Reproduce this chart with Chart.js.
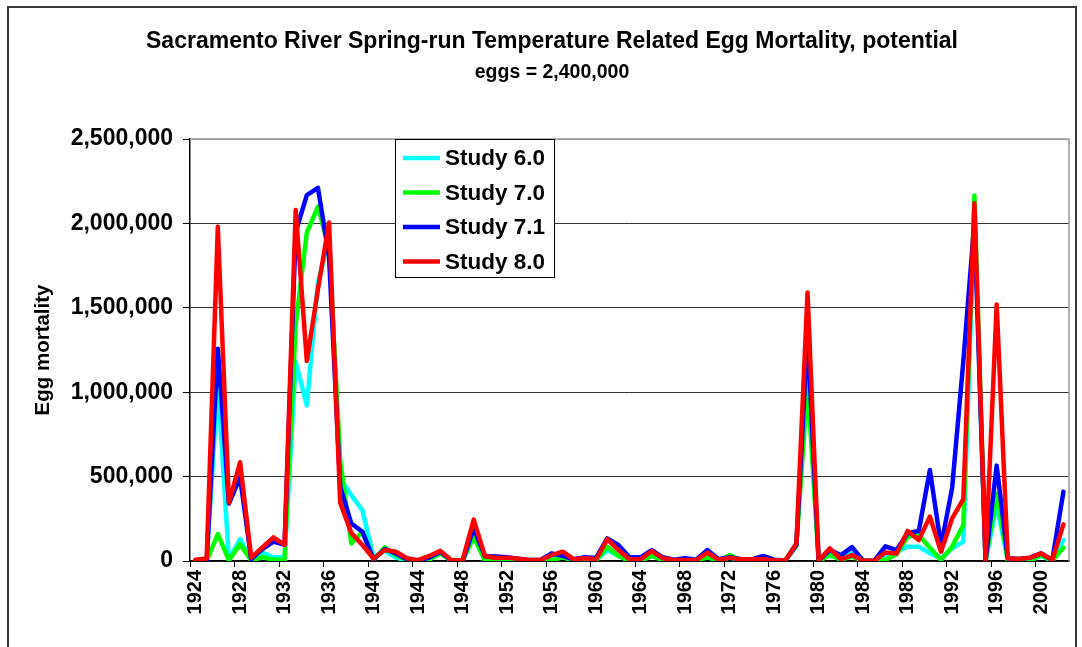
<!DOCTYPE html>
<html>
<head>
<meta charset="utf-8">
<script src="https://cdn.jsdelivr.net/npm/chart.js@4.4.0/dist/chart.umd.min.js"></script>
<style>
  html, body { margin: 0; padding: 0; background: #ffffff; }
  #wrap { width: 1082px; height: 647px; position: relative; }
</style>
</head>
<body>
<div id="wrap"><canvas id="chart" width="1082" height="647"></canvas></div>
<script>
// Water years on the category axis
const years = [
  1924, 1925, 1926, 1927, 1928, 1929, 1930, 1931, 1932, 1933,
  1934, 1935, 1936, 1937, 1938, 1939, 1940, 1941, 1942, 1943,
  1944, 1945, 1946, 1947, 1948, 1949, 1950, 1951, 1952, 1953,
  1954, 1955, 1956, 1957, 1958, 1959, 1960, 1961, 1962, 1963,
  1964, 1965, 1966, 1967, 1968, 1969, 1970, 1971, 1972, 1973,
  1974, 1975, 1976, 1977, 1978, 1979, 1980, 1981, 1982, 1983,
  1984, 1985, 1986, 1987, 1988, 1989, 1990, 1991, 1992, 1993,
  1994, 1995, 1996, 1997, 1998, 1999, 2000, 2001, 2002
];

// Years that carry a tick label
const labeledYears = [
  1924, 1928, 1932, 1936, 1940, 1944, 1948, 1952, 1956, 1960,
  1964, 1968, 1972, 1976, 1980, 1984, 1988, 1992, 1996, 2000
];

// Egg mortality per study
const study60 = [
  0, 0, 1050000, 8000, 130000, 5000, 50000, 22000, 22000, 1180000,
  922000, 1650000, 1900000, 490000, 390000, 300000, 20000, 60000, 20000, 3000,
  2000, 8000, 49000, 2000, 2000, 150000, 10000, 5000, 5000, 3000,
  2000, 2000, 26000, 30000, 2000, 5000, 5000, 65000, 30000, 2000,
  2000, 35000, 5000, 2000, 2000, 2000, 30000, 3000, 20000, 5000,
  3000, 10000, 2000, 2000, 105000, 1200000, 0, 45000, 26000, 55000,
  0, 0, 16000, 55000, 85000, 85000, 45000, 16000, 75000, 115000,
  2050000, 0, 332000, 5000, 2000, 5000, 30000, 1000, 124000
];
const study70 = [
  0, 0, 160000, 3000, 100000, 3000, 22000, 8000, 8000, 1400000,
  1946000, 2099000, 1850000, 600000, 104000, 173000, 5000, 81000, 35000, 3000,
  2000, 10000, 45000, 2000, 2000, 144000, 3000, 3000, 5000, 3000,
  2000, 2000, 6000, 22000, 1000, 2000, 2000, 85000, 30000, 1000,
  1000, 30000, 5000, 1000, 1000, 1000, 22000, 2000, 35000, 5000,
  3000, 8000, 2000, 2000, 90000, 1050000, 0, 35000, 8000, 26000,
  0, 0, 6000, 40000, 144000, 154000, 79000, 6000, 85000, 213000,
  2165000, 0, 400000, 5000, 2000, 5000, 35000, 1000, 79000
];
const study71 = [
  0, 0, 1258000, 340000, 496000, 12000, 71000, 115000, 95000, 1950000,
  2168000, 2211000, 1800000, 440000, 222000, 173000, 10000, 70000, 45000, 10000,
  3000, 20000, 55000, 3000, 3000, 193000, 30000, 26000, 22000, 14000,
  6000, 6000, 45000, 30000, 10000, 22000, 18000, 134000, 95000, 22000,
  22000, 65000, 22000, 8000, 16000, 8000, 65000, 10000, 22000, 10000,
  10000, 30000, 8000, 3000, 95000, 1350000, 2000, 65000, 35000, 82000,
  2000, 2000, 87000, 65000, 164000, 178000, 539000, 90000, 435000, 1180000,
  2010000, 0, 565000, 16000, 12000, 20000, 45000, 6000, 411000
];
const study80 = [
  8000, 15000, 1980000, 345000, 585000, 20000, 80000, 140000, 95000, 2080000,
  1185000, 1610000, 2005000, 345000, 165000, 95000, 15000, 65000, 55000, 16000,
  5000, 30000, 60000, 5000, 5000, 245000, 30000, 18000, 20000, 14000,
  6000, 6000, 35000, 55000, 10000, 16000, 10000, 130000, 65000, 10000,
  10000, 59000, 16000, 6000, 6000, 5000, 50000, 6000, 20000, 10000,
  10000, 12000, 3000, 3000, 104000, 1590000, 2000, 75000, 10000, 35000,
  2000, 2000, 50000, 45000, 178000, 124000, 263000, 55000, 253000, 367000,
  2120000, 0, 1520000, 16000, 12000, 20000, 45000, 6000, 217000
];

// Y axis ticks
const yTicks = [0, 500000, 1000000, 1500000, 2000000, 2500000];

const FONT = '"Liberation Sans", Arial, Helvetica, sans-serif';

// White page, outer frame and the grey plot-area edge
const framePlugin = {
  id: 'frame',
  beforeDraw(chart) {
    const ctx = chart.ctx;
    ctx.save();
    ctx.fillStyle = '#ffffff';
    ctx.fillRect(0, 0, chart.width, chart.height);
    ctx.strokeStyle = '#3a3a3a';
    ctx.lineWidth = 2;
    ctx.strokeRect(8, 7, 1068, 720);
    ctx.restore();
  },
  beforeDatasetsDraw(chart) {
    const { ctx, chartArea: a } = chart;
    ctx.save();
    ctx.strokeStyle = '#999999';
    ctx.lineWidth = 1.5;
    ctx.beginPath();
    ctx.moveTo(a.left, a.top);
    ctx.lineTo(a.right, a.top);
    ctx.lineTo(a.right, a.bottom);
    ctx.stroke();
    ctx.restore();
  }
};

// Boxed legend sitting inside the plot area
const boxLegend = {
  id: 'boxLegend',
  afterDraw(chart) {
    const { ctx, chartArea: a } = chart;
    const x = a.left + 205, y = a.top, w = 159, h = 138;
    ctx.save();
    ctx.fillStyle = '#ffffff';
    ctx.fillRect(x, y, w, h);
    ctx.strokeStyle = '#000000';
    ctx.lineWidth = 1;
    ctx.strokeRect(x + 0.5, y + 0.5, w, h);
    ctx.font = 'bold 22.5px ' + FONT;
    ctx.textBaseline = 'middle';
    ctx.textAlign = 'left';
    chart.data.datasets.forEach((ds, i) => {
      const cy = y + 19 + i * 34.5;
      ctx.strokeStyle = ds.borderColor;
      ctx.lineWidth = 4.5;
      ctx.lineCap = 'butt';
      ctx.beginPath();
      ctx.moveTo(x + 8, cy);
      ctx.lineTo(x + 45, cy);
      ctx.stroke();
      ctx.fillStyle = '#000000';
      ctx.fillText(ds.label, x + 50, cy + 1);
    });
    ctx.restore();
  }
};

const lineStyle = {
  borderWidth: 4.5,
  pointRadius: 0,
  pointHoverRadius: 0,
  tension: 0,
  fill: false,
  borderJoinStyle: 'round',
  borderCapStyle: 'round'
};

new Chart(document.getElementById('chart'), {
  type: 'line',
  data: {
    labels: years,
    datasets: [
      Object.assign({ label: 'Study 6.0', data: study60, borderColor: '#00FFFF', order: 3 }, lineStyle),
      Object.assign({ label: 'Study 7.0', data: study70, borderColor: '#00FF00', order: 2 }, lineStyle),
      Object.assign({ label: 'Study 7.1', data: study71, borderColor: '#0000FF', order: 1 }, lineStyle),
      Object.assign({ label: 'Study 8.0', data: study80, borderColor: '#FF0000', order: 0 }, lineStyle)
    ]
  },
  options: {
    responsive: false,
    animation: false,
    events: [],
    layout: { padding: { left: 22, right: 0, top: 0, bottom: 0 } },
    plugins: {
      legend: { display: false },
      tooltip: { enabled: false },
      title: {
        display: true,
        text: 'Sacramento River Spring-run Temperature Related Egg Mortality, potential',
        color: '#000000',
        font: { family: FONT, size: 23, weight: 'bold', lineHeight: 31 / 23 },
        padding: { top: 26.5, bottom: 0 }
      },
      subtitle: {
        display: true,
        text: 'eggs = 2,400,000',
        color: '#000000',
        font: { family: FONT, size: 19.5, weight: 'bold', lineHeight: 31 / 19.5 },
        padding: { top: 0, bottom: 50.5 }
      }
    },
    scales: {
      x: {
        type: 'category',
        offset: true,
        grid: {
          offset: true,
          drawOnChartArea: false,
          drawTicks: true,
          tickLength: 6,
          tickWidth: 1,
          tickColor: (c) => (c.index !== undefined && c.index < years.length && labeledYears.includes(years[c.index])) ? '#000000' : 'rgba(0,0,0,0)'
        },
        border: { display: true, color: '#000000', width: 1.5 },
        ticks: {
          autoSkip: false,
          minRotation: 90,
          maxRotation: 90,
          padding: 3,
          color: '#000000',
          font: { family: FONT, size: 20, weight: 'bold' },
          callback: function (value, index) {
            const yr = years[index];
            return labeledYears.includes(yr) ? String(yr) : '';
          }
        },
        afterFit(scale) {
          scale.height = 86;
          scale.paddingLeft = 0;
          scale.paddingRight = 13;
        }
      },
      y: {
        min: 0,
        max: 2500000,
        afterBuildTicks(scale) {
          scale.ticks = yTicks.map(v => ({ value: v }));
        },
        grid: {
          color: (c) => (c.tick && c.tick.value === 2500000) ? '#999999' : '#333333',
          lineWidth: 1,
          tickLength: 7,
          tickColor: '#000000'
        },
        border: { display: true, color: '#000000', width: 1.5 },
        ticks: {
          padding: 10,
          color: '#000000',
          font: { family: FONT, size: 23, weight: 'bold' },
          callback: (v) => Number(v).toLocaleString('en-US')
        },
        title: {
          display: true,
          text: 'Egg mortality',
          color: '#000000',
          font: { family: FONT, size: 20.5, weight: 'bold', lineHeight: 1.2 },
          padding: { top: 9, bottom: 0 }
        },
        afterFit(scale) {
          scale.width = 168;
          scale.paddingTop = 0;
          scale.paddingBottom = 0;
        }
      }
    }
  },
  plugins: [framePlugin, boxLegend]
});
</script>
</body>
</html>
